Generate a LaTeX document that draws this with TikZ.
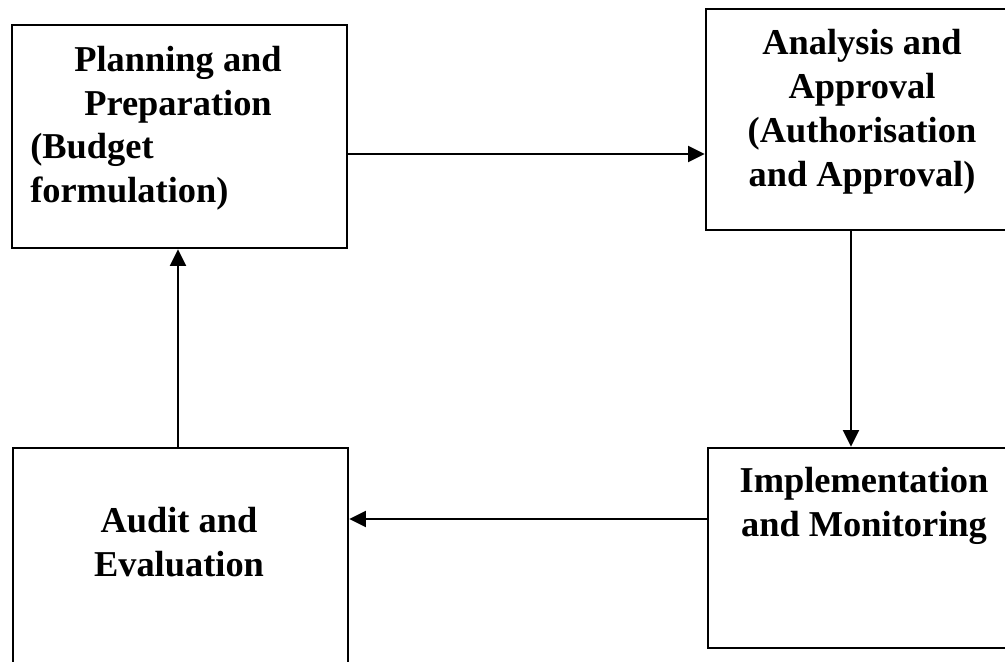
\documentclass[tikz,border=0pt]{standalone}
\usepackage{fontspec}
\setmainfont{Liberation Serif}
\usetikzlibrary{arrows.meta}

\tikzset{
  stage/.style={draw=black, line width=1.9pt, rectangle, inner sep=0pt},
  label/.style={inner sep=0pt, font=\fontsize{27.3}{33}\selectfont\bfseries},
  flow/.style={line width=1.5pt, -{Triangle[length=12.5pt,width=12pt]}}
}

\begin{document}
\begin{tikzpicture}[x=0.75pt, y=-0.75pt]
  % page frame
  \clip (0,0) rectangle (1005,661);
  \fill[white] (0,0) rectangle (1005,661);

  % the four stages of the budget cycle
  \node[stage, minimum width=251.25pt, minimum height=167.25pt] (plan)  at (179.5,136.5) {};
  \node[stage, minimum width=243pt,    minimum height=165.75pt] (appr)  at (868,119.5)  {};
  \node[stage, minimum width=241.5pt,  minimum height=150pt]    (impl)  at (869,548)    {};
  \node[stage, minimum width=251.25pt, minimum height=189pt]    (audit) at (180.5,574)  {};

  % stage titles
  \node[label, align=center, anchor=north] (planT) at (178,40.9)
    {\strut Planning and\\Preparation};
  \node[label, align=left, anchor=north west] (planS) at (30,127.2)
    {\strut(Budget\\formulation)};
  \node[label, align=center, anchor=north] (apprT) at (862,23.2)
    {\strut Analysis and\\Approval\\(Authorisation\\and Approval)};
  \node[label, align=center, anchor=north] (implT) at (864,461.2)
    {\strut Implementation\\and Monitoring};
  \node[label, align=center, anchor=north] (auditT) at (179,501.2)
    {\strut Audit and\\Evaluation};

  % connectors
  \draw[flow] (plan.east |- 0,154) -- (appr.west |- 0,154);
  \draw[flow] (appr.south -| 851,0) -- (impl.north -| 851,0);
  \draw[flow] (impl.west |- 0,519) -- (audit.east |- 0,519);
  \draw[flow] (audit.north -| 178,0) -- (plan.south -| 178,0);
\end{tikzpicture}
\end{document}
